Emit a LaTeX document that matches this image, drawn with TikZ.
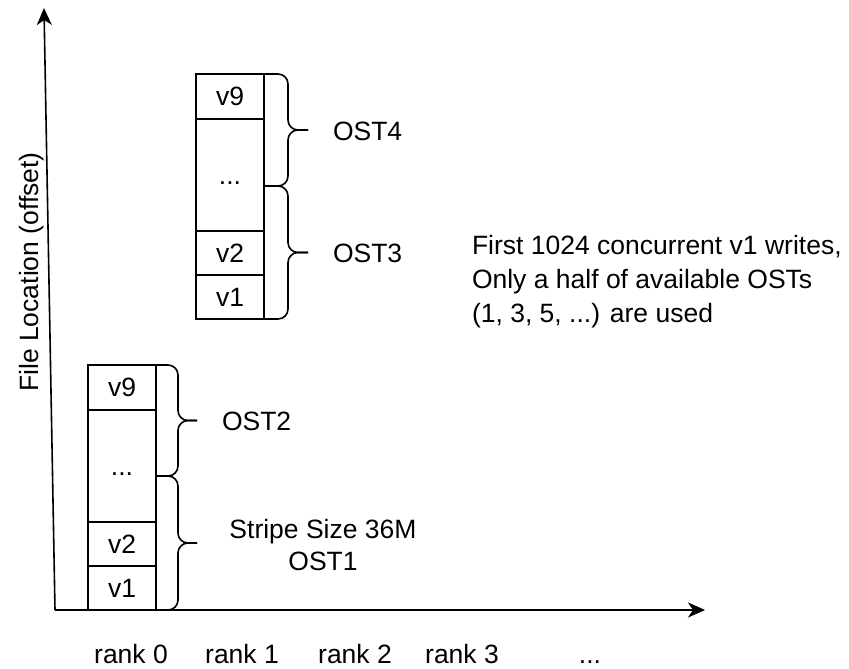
\documentclass[tikz,border=0pt]{standalone}
\usepackage{fontspec}
\setmainfont{Liberation Sans}
\usetikzlibrary{arrows.meta}
\begin{document}
\begin{tikzpicture}[x=1pt,y=-1pt,
  every node/.style={font=\fontsize{26.5}{31}\selectfont, inner sep=0pt, outer sep=0pt},
  cell/.style={draw, line width=1.6pt, anchor=north west, minimum width=68pt, text height=18.7pt, text depth=0pt},
  lab/.style={text height=18.7pt, text depth=0pt},
  brace/.style={line width=1.6pt, rounded corners=10pt},
  axis/.style={line width=1.6pt, -{Stealth[length=17pt,width=15pt,inset=5pt]}}]
\useasboundingbox (0,0) rectangle (849,669);

% axes
\coordinate (O) at (55,610);
\coordinate (Ytop) at (44,8);
\coordinate (Xend) at (705,610);
\draw[axis] (O) -- (Ytop);
\draw[axis] (O) -- (Xend);
\node[lab, rotate=90] (ylab) at (29,272) {File Location (offset)};

% bottom block (rank 0)
\node[cell, minimum height=45pt]  (a9) at (88,365) {v9};
\node[cell, minimum height=112pt] (ad) at (a9.south west) {...};
\node[cell, minimum height=44pt]  (a2) at (ad.south west) {v2};
\node[cell, minimum height=44pt]  (a1) at (a2.south west) {v1};

% top block
\node[cell, minimum height=45pt]  (b9) at (196,74) {v9};
\node[cell, minimum height=112pt] (bd) at (b9.south west) {...};
\node[cell, minimum height=44pt]  (b2) at (bd.south west) {v2};
\node[cell, minimum height=44pt]  (b1) at (b2.south west) {v1};

% braces: x0, xv, xt, ytop, ybot
\newcommand\ostbrace[5]{%
  \draw[brace] (#1,#4) -- (#2,#4) -- (#2,{(#4+#5)/2}) -- (#3,{(#4+#5)/2});
  \draw[brace] (#3,{(#4+#5)/2}) -- (#2,{(#4+#5)/2}) -- (#2,#5) -- (#1,#5);}
\ostbrace{263}{288}{308}{74}{186}
\ostbrace{263}{288}{308}{186}{319}
\ostbrace{156}{178}{197}{365}{476}
\ostbrace{156}{178}{197}{476}{610}

% labels
\node[lab, anchor=west] (ost4) at (333,131) {OST4};
\node[lab, anchor=west] (ost3) at (333,253) {OST3};
\node[lab, anchor=west] (ost2) at (222,421) {OST2};
\node[anchor=base, align=center, font=\fontsize{26.5}{32}\selectfont] (ost1) at (323,570) {Stripe Size 36M\\OST1};
\node[anchor=base west, align=left, font=\fontsize{26.5}{34}\selectfont] (note) at (472,322)
  {First 1024 concurrent v1 writes,\\Only a half of available OSTs\\(1, 3, 5, ...) are used};

\node[lab] (r0) at (131,654) {rank 0};
\node[lab] (r1) at (242,654) {rank 1};
\node[lab] (r2) at (355,654) {rank 2};
\node[lab] (r3) at (462,654) {rank 3};
\node[lab] (rd) at (590,654) {...};
\end{tikzpicture}
\end{document}
